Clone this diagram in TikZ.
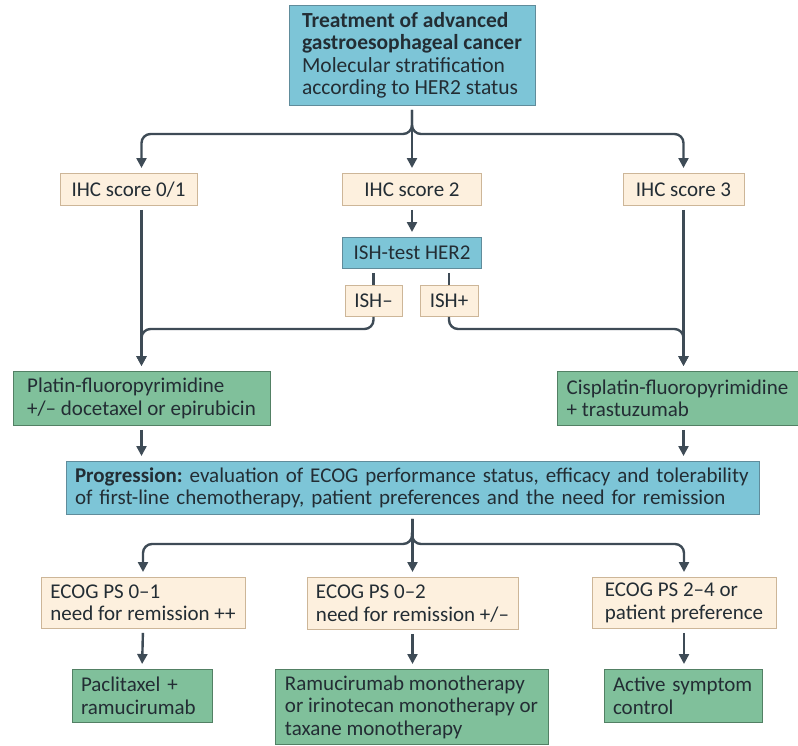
\documentclass[tikz,border=0pt]{standalone}
\usepackage{fontspec}
\setmainfont{Carlito}
\usepackage{xcolor}
\usetikzlibrary{arrows.meta,positioning}

\definecolor{hblue}{RGB}{125,197,215}
\definecolor{hblueline}{RGB}{96,140,155}
\definecolor{hbeige}{RGB}{253,240,222}
\definecolor{hbeigeline}{RGB}{205,182,152}
\definecolor{hgreen}{RGB}{128,192,155}
\definecolor{hgreenline}{RGB}{82,128,100}
\definecolor{ink}{RGB}{35,45,52}
\definecolor{arrowgray}{RGB}{62,75,86}

\begin{document}
\begin{tikzpicture}[
  x=1pt, y=-1pt,
  font=\fontsize{21}{22.5}\selectfont\frenchspacing,
  box/.style={draw, anchor=north, align=left, inner xsep=9pt, inner ysep=2pt, line width=0.9pt, text=ink},
  bluebox/.style={box, fill=hblue, draw=hblueline},
  beigebox/.style={box, fill=hbeige, draw=hbeigeline},
  greenbox/.style={box, fill=hgreen, draw=hgreenline},
  arr/.style={-{Triangle[length=10pt,width=10pt]}, line width=2.4pt, draw=arrowgray, shorten <=4pt, shorten >=5pt},
  ln/.style={line width=2.4pt, draw=arrowgray}
]
  \clip (0,0) rectangle (798,745);
  % HER2 stratification
  \node[bluebox, minimum width=246pt, minimum height=100pt, font=\fontsize{21.5}{22.5}\selectfont] (top) at (412,5) {\textbf{Treatment of advanced}\\\textbf{gastroesophageal cancer}\\Molecular stratification\\according to HER2 status};
  \node[beigebox, align=center, minimum width=137pt, minimum height=32pt] (ihcA) at (128.5,173) {IHC score 0/1};
  \node[beigebox, align=center, minimum width=139pt, minimum height=32pt] (ihcB) at (412,173) {IHC score 2};
  \node[beigebox, align=center, minimum width=121pt, minimum height=32pt] (ihcC) at (683.5,173) {IHC score 3};
  \node[bluebox, align=center, minimum width=139pt, minimum height=31pt] (ishtest) at (412,237) {ISH-test HER2};
  \node[beigebox, align=center, inner xsep=4pt, minimum width=57pt, minimum height=31pt] (ishneg) at (373.5,285) {ISH–};
  \node[beigebox, align=center, inner xsep=4pt, minimum width=58pt, minimum height=31pt] (ishpos) at (449,285) {ISH+};
  % first line
  \node[greenbox, minimum width=257pt, minimum height=54pt] (platin) at (141.5,371) {Platin-fluoropyrimidine\\+/– docetaxel or epirubicin};
  \node[greenbox, minimum width=241pt, minimum height=54pt, inner xsep=8pt] (cispl) at (677.5,371) {Cisplatin-fluoropyrimidine\\+ trastuzumab};
  \node[bluebox, text width=675pt, minimum height=53pt] (prog) at (412.5,461) {\textbf{Progression:} evaluation of ECOG performance status, efficacy and tolerability\\of first-line chemotherapy, patient preferences and the need for remission};
  % second line
  \node[beigebox, minimum width=204pt, minimum height=51pt] (ecogA) at (143,577) {ECOG PS 0–1\\need for remission ++};
  \node[beigebox, minimum width=211pt, minimum height=52pt] (ecogB) at (412.5,577) {ECOG PS 0–2\\need for remission +/–};
  \node[beigebox, minimum width=184pt, minimum height=51pt] (ecogC) at (684,577) {ECOG PS 2–4 or\\patient preference};
  \node[greenbox, text width=122pt, minimum height=53pt] (pacli) at (142,669) {Paclitaxel +\\ramucirumab};
  \node[greenbox, minimum width=273pt, minimum height=75pt] (ramu) at (411.5,669) {Ramucirumab monotherapy\\or irinotecan monotherapy or\\taxane monotherapy};
  \node[greenbox, text width=140pt, minimum height=53pt] (bsc) at (683,669) {Active symptom\\control};

  \coordinate (jtop) at (412,134);
  \coordinate (jbot) at (412,544);
  \coordinate (jleft) at (141.5,329);
  \coordinate (jright) at (683.5,329);

  \draw[arr, rounded corners=9pt] (top.south) -- (jtop) -| (platin.north |- ihcA.north);
  \draw[arr, rounded corners=9pt] (top.south) -- (jtop) -| (ihcC.north);
  \draw[arr] (top.south) -- (ihcB.north);
  \draw[arr] (ihcB.south) -- (ishtest.north);
  \draw[ln, shorten <=4pt] (ishtest.south -| ishneg.north) -- (ishneg.north);
  \draw[ln, shorten <=4pt] (ishtest.south -| ishpos.north) -- (ishpos.north);
  \draw[arr] (platin.north |- ihcA.south) -- (platin.north);
  \draw[arr, shorten <=0pt, rounded corners=9pt] (ishneg.south) |- (jleft) -- (platin.north);
  \draw[arr] (ihcC.south) -- (ihcC.south |- cispl.north);
  \draw[arr, shorten <=0pt, rounded corners=9pt] (ishpos.south) |- (jright) -- (ihcC.south |- cispl.north);
  \draw[arr] (platin.south) -- (platin.south |- prog.north);
  \draw[arr] (ihcC.south |- cispl.south) -- (ihcC.south |- prog.north);
  \draw[arr, rounded corners=9pt] (prog.south) -- (jbot) -| (ecogA.north);
  \draw[arr, rounded corners=9pt] (prog.south) -- (jbot) -| (ecogC.north);
  \draw[arr] (prog.south) -- (ecogB.north);
  \draw[arr] (ecogA.south) -- (pacli.north);
  \draw[arr] (ecogB.south) -- (ecogB.south |- ramu.north);
  \draw[arr] (ecogC.south) -- (ecogC.south |- bsc.north);
\end{tikzpicture}
\end{document}
